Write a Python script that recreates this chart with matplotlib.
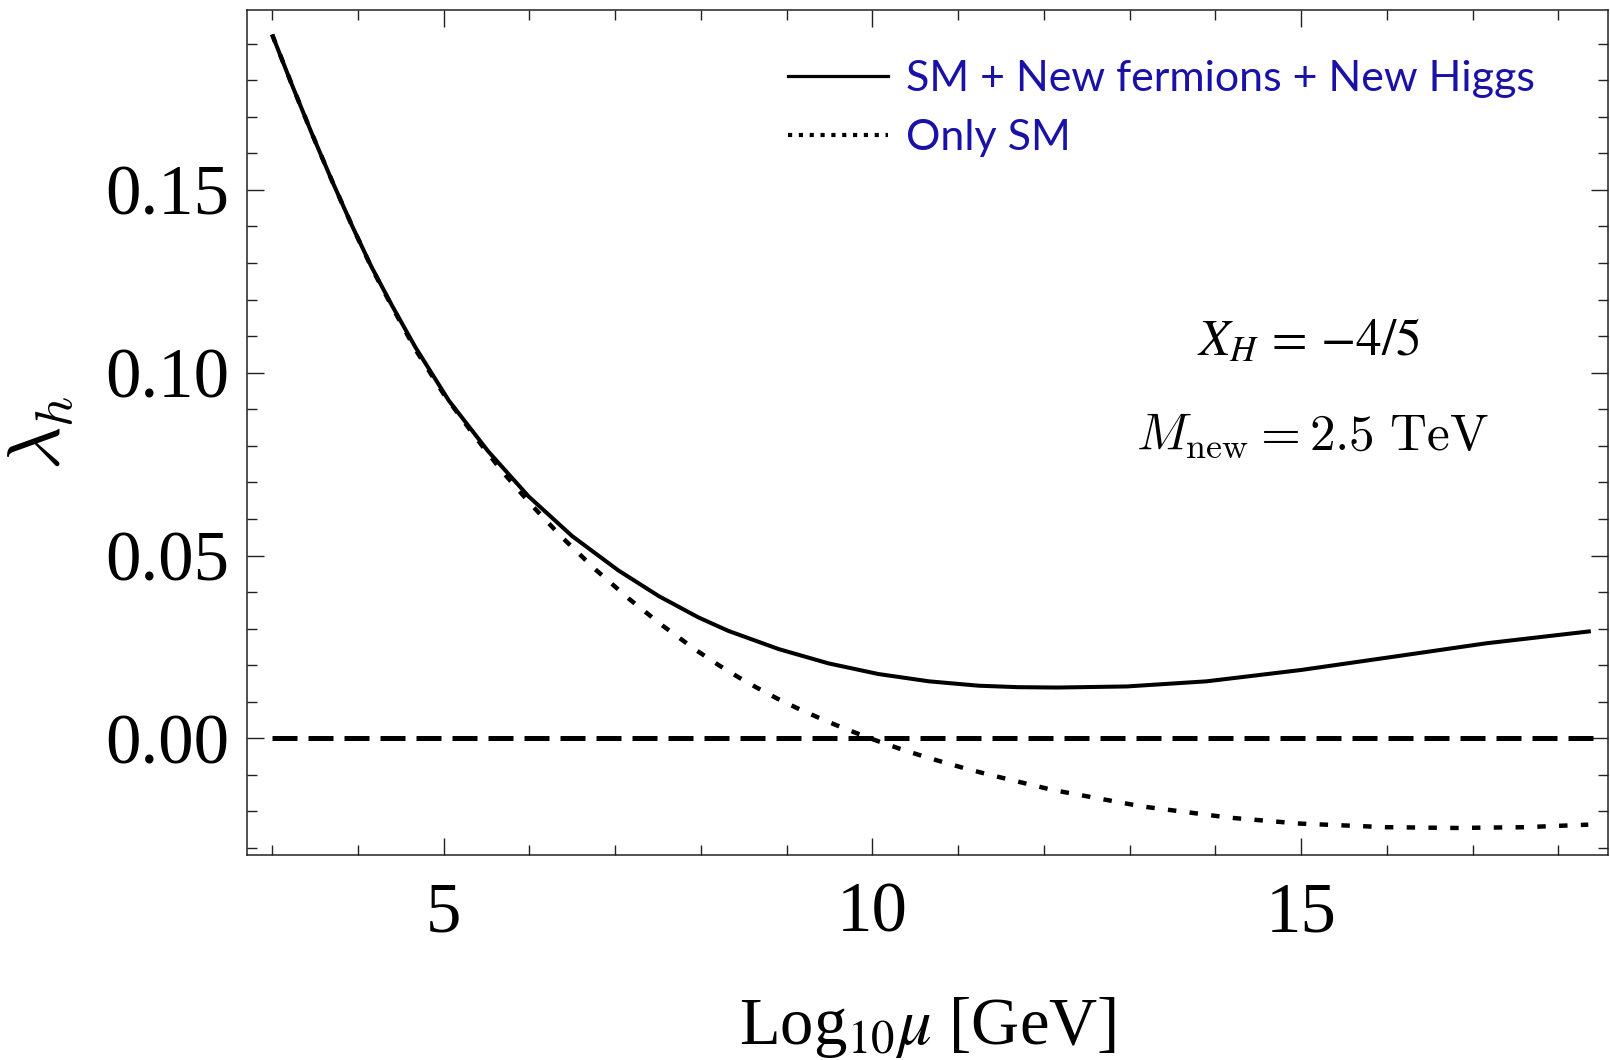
"""Running Higgs quartic lambda_h vs log10(mu): SM+new physics vs SM only."""
import matplotlib
matplotlib.use("Agg")
import matplotlib.pyplot as plt
from matplotlib.lines import Line2D
from matplotlib.ticker import MultipleLocator, FixedLocator, FixedFormatter

# ---- data ----
log_mu_new = [3.00, 3.23, 3.46, 3.70, 3.93, 4.16, 4.40, 4.67, 5.06, 5.52,
              5.99, 6.50, 7.04, 7.51, 7.97, 8.32, 8.91, 9.49, 10.07, 10.66,
              11.24, 11.70, 12.16, 12.97, 13.90, 15.00, 16.07, 17.16, 18.38]
lam_new = [0.1925, 0.1788, 0.1656, 0.1524, 0.1403, 0.1289, 0.1183, 0.1070,
           0.0924, 0.0785, 0.0662, 0.0553, 0.0459, 0.0389, 0.0331, 0.0294,
           0.0244, 0.0205, 0.0176, 0.0156, 0.0144, 0.0140, 0.0139, 0.0142,
           0.0156, 0.0187, 0.0223, 0.0260, 0.0293]

log_mu_sm = [3.00, 3.23, 3.46, 3.70, 3.93, 4.16, 4.40, 4.67, 5.00, 5.37,
             5.68, 6.03, 6.38, 6.77, 7.16, 7.55, 7.94, 8.21, 8.44, 8.65,
             8.89, 9.12, 9.35, 9.57, 9.84, 10.07, 10.34, 10.58, 10.81, 11.08,
             11.34, 12.10, 13.14, 14.17, 14.98, 16.00, 16.80, 17.60, 18.35]
lam_sm = [0.1925, 0.1788, 0.1656, 0.1524, 0.1403, 0.1287, 0.1180, 0.1064,
          0.0942, 0.0824, 0.0731, 0.0637, 0.0550, 0.0462, 0.0382, 0.0309,
          0.0242, 0.0200, 0.0167, 0.0139, 0.0109, 0.0083, 0.0059, 0.0037,
          0.0012, -0.0008, -0.0030, -0.0048, -0.0064, -0.0082, -0.0098,
          -0.0141, -0.0186, -0.0217, -0.0233, -0.0243, -0.0245, -0.0243,
          -0.0236]

zero_x = [3.0, 18.4]
zero_y = [0.0, 0.0]

y_major = [0.0, 0.05, 0.10, 0.15]
y_labels = ["0.00", "0.05", "0.10", "0.15"]
x_major = [5, 10, 15]
x_labels = ["5", "10", "15"]

legend_labels = ["SM + New fermions + New Higgs", "Only SM"]

SERIF = "Liberation Serif"
BLUE = "#1A12A6"
SPINE = "#222222"

fig = plt.figure(figsize=(16.1, 10.6), dpi=100)
fig.patch.set_facecolor("white")
ax = fig.add_axes([247 / 1610, 1 - 855 / 1060, 1361 / 1610, 845 / 1060])

ax.plot(log_mu_new, lam_new, color="black", lw=2.9, solid_capstyle="butt",
        solid_joinstyle="round")
ax.plot(log_mu_sm, lam_sm, color="black", lw=3.2,
        dashes=(1.9, 3.0), dash_capstyle="butt")
ax.plot(zero_x, zero_y, color="black", lw=3.6,
        dashes=(5.0, 2.2), dash_capstyle="butt")

ax.set_xlim(2.707, 18.58)
ax.set_ylim(-0.0319, 0.1992)

ax.xaxis.set_major_locator(FixedLocator(x_major))
ax.xaxis.set_major_formatter(FixedFormatter(x_labels))
ax.xaxis.set_minor_locator(MultipleLocator(1))
ax.yaxis.set_major_locator(FixedLocator(y_major))
ax.yaxis.set_major_formatter(FixedFormatter(y_labels))
ax.yaxis.set_minor_locator(MultipleLocator(0.01))

ax.tick_params(which="both", direction="in", top=True, right=True,
               color=SPINE, width=1.0)
ax.tick_params(which="major", length=12.5)
ax.tick_params(which="minor", length=7)
ax.tick_params(axis="x", which="major", pad=19)
ax.tick_params(axis="y", which="major", pad=13)
for lab in ax.get_xticklabels() + ax.get_yticklabels():
    lab.set_fontfamily(SERIF)
    lab.set_fontsize(51)

for sp in ax.spines.values():
    sp.set_color(SPINE)
    sp.set_linewidth(1.1)

ax.set_xlabel(r"Log$_{10}\mu$ [GeV]", fontfamily=SERIF, fontsize=48,
              math_fontfamily="stix", labelpad=35)
ax.set_ylabel(r"$\lambda_h$", fontsize=54, math_fontfamily="cm",
              labelpad=20)

# annotations
ax.text(0.780, 0.608, r"$X_H\,=\,{-}4/5$", transform=ax.transAxes,
        ha="center", va="center", fontsize=37, math_fontfamily="stix")
ax.text(0.783, 0.4954, r"$M_{\rm new} = 2.5\ {\rm TeV}$",
        transform=ax.transAxes, ha="center", va="center", fontsize=37,
        math_fontfamily="cm")

# legend with its own finer sample styles
handles = [
    Line2D([], [], color="black", lw=2.3),
    Line2D([], [], color="black", lw=3.0, dashes=(1.0, 1.6),
           dash_capstyle="butt"),
]
leg = ax.legend(handles, legend_labels, loc="upper left",
                bbox_to_anchor=(0.3975, 0.941), frameon=False,
                borderpad=0, borderaxespad=0, handlelength=2.33,
                handletextpad=0.41, labelspacing=0.5,
                prop={"family": "Lato", "size": 31})
for t in leg.get_texts():
    t.set_color(BLUE)

fig.savefig("out.png", dpi=100, facecolor="white")
